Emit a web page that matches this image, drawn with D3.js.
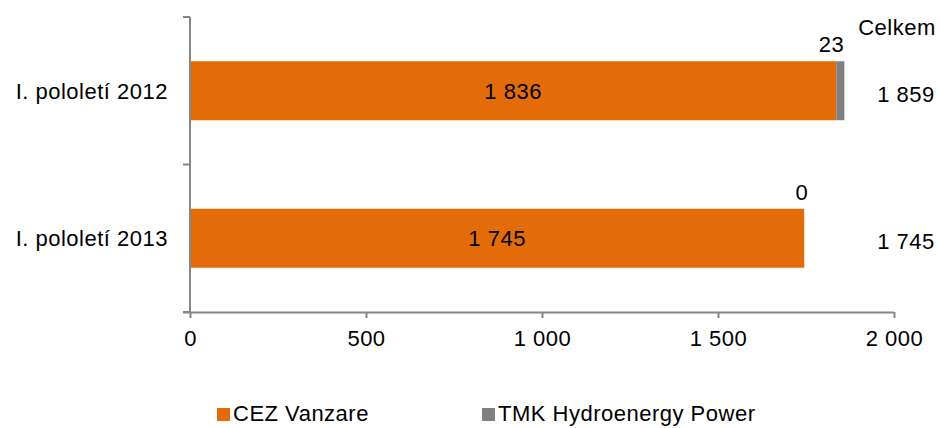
<!DOCTYPE html>
<html>
<head>
<meta charset="utf-8">
<script src="https://cdn.jsdelivr.net/npm/d3@7.9.0/dist/d3.min.js"></script>
<style>
  body { margin: 0; background: #fff; }
  svg { display: block; font-family: "Liberation Sans", Arial, sans-serif; }
  text { font-size: 22px; fill: #000; letter-spacing: 0.5px; }
</style>
</head>
<body>
<svg id="chart" width="941" height="428"></svg>
<script>
const categories = ['I. pololetí 2012', 'I. pololetí 2013'];
const seriesNames = ['CEZ Vanzare', 'TMK Hydroenergy Power'];
const cezValues = [1836, 1745];
const tmkValues = [23, 0];
const totals = [1859, 1745];
const xTicks = [0, 500, 1000, 1500, 2000];

const colors = ['#e36c09', '#808080'];
const axisColor = '#868686';

const cz = d3.formatLocale({ decimal: ',', thousands: '\u00a0', grouping: [3], currency: ['', ' Kč'] });
const fmt = cz.format(',d');

const svg = d3.select('#chart');
const plotLeft = 190, plotRight = 894, plotTop = 17, plotBottom = 312;

const x = d3.scaleLinear().domain([0, 2000]).range([plotLeft, plotRight]);
const y = d3.scaleBand().domain(categories).range([plotTop, plotBottom])
  .paddingInner(0.6).paddingOuter(0.3);

let rows = categories.map((c, i) => ({ cat: c, cez: cezValues[i], tmk: tmkValues[i], total: totals[i] }));
let stacked = d3.stack().keys(['cez', 'tmk'])(rows);

// bars
stacked.forEach((layer, k) => {
  svg.append('g').selectAll('rect')
    .data(layer)
    .join('rect')
    .attr('x', (d) => x(d[0]))
    .attr('y', (d) => y(d.data.cat))
    .attr('width', (d) => x(d[1]) - x(d[0]))
    .attr('height', y.bandwidth())
    .attr('fill', colors[k]);
});

// x axis
let xAxis = svg.append('g')
  .attr('transform', `translate(0,${plotBottom})`)
  .call(d3.axisBottom(x).tickValues(xTicks).tickFormat(fmt).tickSize(6).tickPadding(12).tickSizeOuter(0));
xAxis.select('.domain').attr('stroke', axisColor).attr('stroke-width', 2)
  .attr('d', `M${plotLeft - 7},0.5H${plotRight}`);
xAxis.selectAll('.tick line').attr('stroke', axisColor).attr('stroke-width', 2);
xAxis.attr('font-size', null).attr('font-family', null);

// y axis (line plus ticks at category boundaries)
svg.append('line')
  .attr('x1', plotLeft).attr('x2', plotLeft).attr('y1', plotTop).attr('y2', plotBottom)
  .attr('stroke', axisColor).attr('stroke-width', 2);
let bounds = d3.range(categories.length + 1).map((i) => plotTop + i * y.step());
svg.append('g').selectAll('line')
  .data(bounds)
  .join('line')
  .attr('x1', plotLeft - 7).attr('x2', plotLeft)
  .attr('y1', (d) => d).attr('y2', (d) => d)
  .attr('stroke', axisColor).attr('stroke-width', 2);

// category labels
svg.append('g').selectAll('text')
  .data(categories)
  .join('text')
  .attr('x', 168)
  .attr('y', (d) => y(d) + y.bandwidth() / 2)
  .attr('dy', '0.36em')
  .attr('text-anchor', 'end')
  .text((d) => d);

// CEZ labels inside bars
svg.append('g').selectAll('text')
  .data(stacked[0])
  .join('text')
  .attr('x', (d) => (x(d[0]) + x(d[1])) / 2)
  .attr('y', (d) => y(d.data.cat) + y.bandwidth() / 2)
  .attr('dy', '0.36em')
  .attr('text-anchor', 'middle')
  .text((d) => fmt(d.data.cez));

// TMK labels above bar ends
svg.append('g').selectAll('text')
  .data(stacked[1])
  .join('text')
  .attr('x', (d) => (x(d[0]) + x(d[1])) / 2 + 4)
  .attr('y', (d) => y(d.data.cat) - 9)
  .attr('text-anchor', 'end')
  .text((d) => fmt(d.data.tmk));

// totals
svg.append('text')
  .attr('x', 897).attr('y', 35)
  .attr('text-anchor', 'middle')
  .text('Celkem');
svg.append('g').selectAll('text')
  .data(rows)
  .join('text')
  .attr('x', 906)
  .attr('y', (d) => y(d.cat) + y.bandwidth() / 2 + 11)
  .attr('text-anchor', 'middle')
  .text((d) => fmt(d.total));

// legend
let legendX = [217, 482];
let legend = svg.append('g').selectAll('g')
  .data(seriesNames)
  .join('g')
  .attr('transform', (d, i) => `translate(${legendX[i]},408)`);
legend.append('rect')
  .attr('width', 13).attr('height', 13)
  .attr('fill', (d, i) => colors[i]);
legend.append('text')
  .attr('x', 16).attr('y', 13)
  .text((d) => d);
</script>
</body>
</html>
